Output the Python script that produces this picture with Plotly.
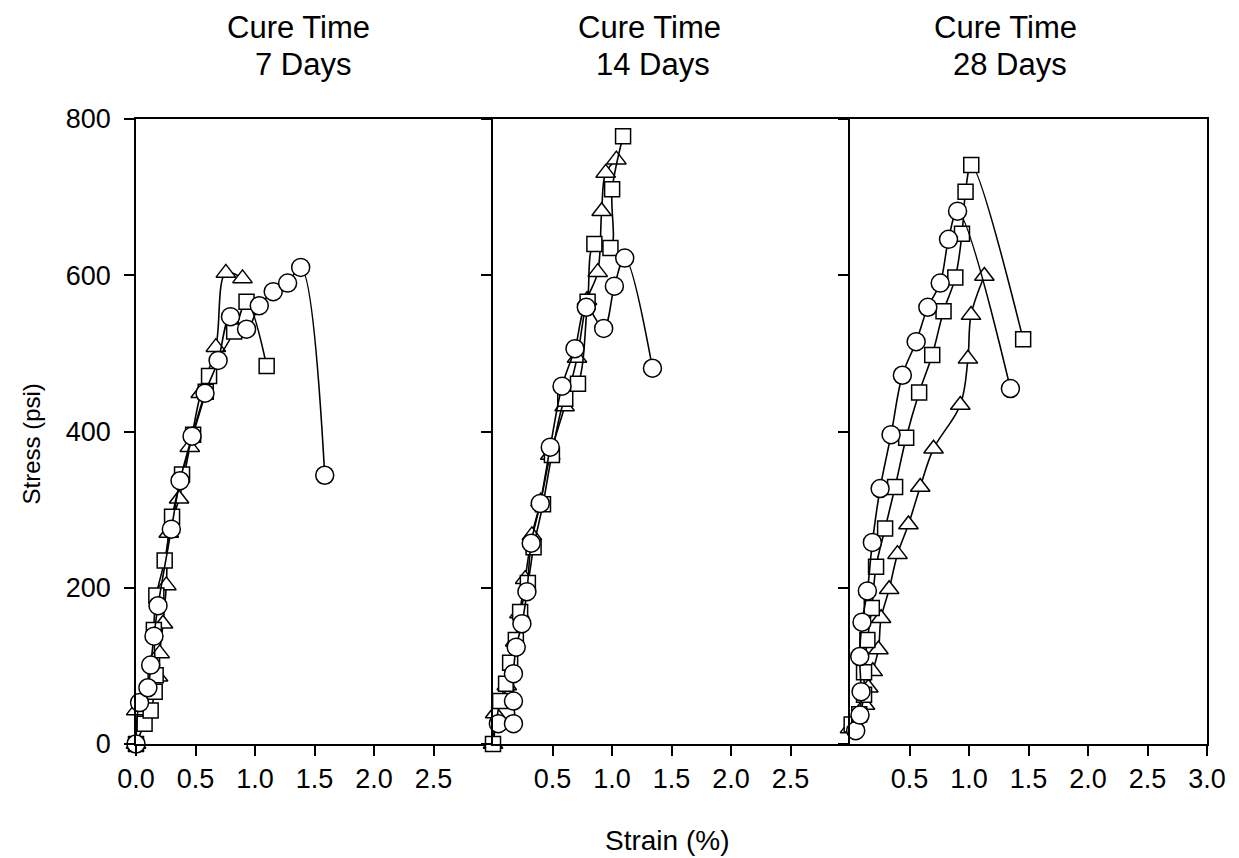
import plotly.graph_objects as go

# ---------------- data ----------------
title_line1 = ["Cure Time", "Cure Time", "Cure Time"]
title_line2 = ["7 Days", "14 Days", "28 Days"]

# 7 days
d7_tri_x = [0.0, 0.002, 0.185, 0.199, 0.227, 0.255, 0.275, 0.362, 0.452, 0.544, 0.671, 0.755, 0.895]
d7_tri_y = [0, 43, 86, 116, 154, 203, 270, 314, 380, 449, 508, 603, 596]
d7_sq_x = [0.0, 0.072, 0.123, 0.157, 0.165, 0.150, 0.171, 0.241, 0.303, 0.387, 0.480, 0.586, 0.614, 0.825, 0.929, 1.098]
d7_sq_y = [0, 26, 43, 67, 88, 146, 190, 235, 291, 345, 396, 451, 471, 528, 566, 484]
d7_ci_x = [0.0, 0.030, 0.100, 0.123, 0.151, 0.185, 0.297, 0.370, 0.471, 0.580, 0.690, 0.794, 0.929, 1.036, 1.153, 1.274, 1.384, 1.586]
d7_ci_y = [0, 53, 72, 101, 138, 177, 275, 337, 394, 449, 491, 547, 531, 561, 579, 590, 610, 344]

# 14 days
d14_tri_x = [0.0, 0.018, 0.068, 0.116, 0.186, 0.222, 0.270, 0.327, 0.400, 0.481, 0.602, 0.706, 0.790, 0.880, 0.913, 0.947, 1.037]
d14_tri_y = [0, 39, 52, 75, 131, 167, 211, 267, 310, 370, 432, 494, 568, 604, 682, 731, 748]
d14_sq_x = [0.0, 0.060, 0.110, 0.144, 0.192, 0.228, 0.293, 0.341, 0.420, 0.495, 0.607, 0.714, 0.795, 0.852, 0.987, 1.001, 1.093]
d14_sq_y = [0, 55, 77, 104, 133, 169, 206, 252, 307, 370, 442, 461, 566, 640, 635, 710, 778]
d14_ci_x = [0.045, 0.172, 0.172, 0.172, 0.195, 0.243, 0.285, 0.321, 0.397, 0.481, 0.580, 0.689, 0.784, 0.930, 1.020, 1.107, 1.340]
d14_ci_y = [26, 26, 55, 90, 124, 154, 195, 257, 308, 380, 458, 506, 559, 532, 586, 622, 481]

# 28 days
d28_tri_x = [0.0, 0.126, 0.154, 0.191, 0.239, 0.261, 0.329, 0.399, 0.491, 0.590, 0.702, 0.927, 0.991, 1.017, 1.129]
d28_tri_y = [20, 50, 72, 93, 121, 161, 198, 243, 281, 329, 378, 434, 493, 549, 599]
d28_sq_x = [0.014, 0.078, 0.118, 0.118, 0.146, 0.183, 0.219, 0.295, 0.379, 0.472, 0.581, 0.691, 0.786, 0.885, 0.941, 0.971, 1.019, 1.455]
d28_sq_y = [25, 38, 63, 92, 133, 174, 227, 276, 329, 392, 450, 498, 554, 597, 653, 707, 741, 518]
d28_ci_x = [0.048, 0.084, 0.093, 0.082, 0.101, 0.146, 0.188, 0.253, 0.345, 0.440, 0.556, 0.654, 0.758, 0.828, 0.904, 1.348]
d28_ci_y = [17, 37, 67, 112, 156, 196, 258, 327, 396, 472, 515, 559, 590, 646, 682, 455]

x_ticks_p1 = [0.0, 0.5, 1.0, 1.5, 2.0, 2.5]
x_ticks_p2 = [0.5, 1.0, 1.5, 2.0, 2.5]
x_ticks_p3 = [0.5, 1.0, 1.5, 2.0, 2.5, 3.0]
y_ticks = [0, 200, 400, 600, 800]

# ---------------- figure ----------------
FONT = "Arial, Liberation Sans, sans-serif"
fig = go.Figure()

panels = [
    [(d7_tri_x, d7_tri_y), (d7_sq_x, d7_sq_y), (d7_ci_x, d7_ci_y)],
    [(d14_tri_x, d14_tri_y), (d14_sq_x, d14_sq_y), (d14_ci_x, d14_ci_y)],
    [(d28_tri_x, d28_tri_y), (d28_sq_x, d28_sq_y), (d28_ci_x, d28_ci_y)],
]
symbols = [("triangle-up", 17), ("square", 15), ("circle", 18)]

for i, series in enumerate(panels):
    xa = "x" if i == 0 else f"x{i+1}"
    ya = "y" if i == 0 else f"y{i+1}"
    for (xs, ys), (sym, size) in zip(series, symbols):
        fig.add_trace(go.Scatter(
            x=xs, y=ys, xaxis=xa, yaxis=ya, mode="lines+markers",
            line=dict(color="black", width=1.6, shape="spline", smoothing=1.0),
            marker=dict(symbol=sym, size=size, color="white",
                        line=dict(color="black", width=1.5)),
            cliponaxis=False, showlegend=False, hoverinfo="x+y",
        ))

doms = [[0.0, 1/3], [1/3, 2/3], [2/3, 1.0]]
xticks = [x_ticks_p1, x_ticks_p2, x_ticks_p3]
layout = dict(
    width=1231, height=850,
    margin=dict(l=128, r=32, t=111, b=114),
    paper_bgcolor="white", plot_bgcolor="white",
    font=dict(family=FONT, color="black", size=27),
    showlegend=False,
)
for i in range(3):
    sx = "" if i == 0 else str(i + 1)
    layout["xaxis" + sx] = dict(
        domain=doms[i], range=[0, 3], anchor="y" + sx,
        tickmode="array", tickvals=xticks[i],
        ticktext=[f"{v:.1f}" for v in xticks[i]],
        ticks="outside", ticklen=10, tickwidth=1.5, tickcolor="black",
        showline=True, linecolor="black", linewidth=1.5, mirror=True,
        showgrid=False, zeroline=False, tickfont=dict(size=27),
        ticklabelstandoff=0,
    )
    layout["yaxis" + sx] = dict(
        domain=[0, 1], range=[0, 800], anchor="x" + sx,
        tickmode="array", tickvals=y_ticks,
        ticks="outside", ticklen=10, tickwidth=1.5, tickcolor="black",
        showticklabels=(i == 0),
        showline=True, linecolor="black", linewidth=1.5, mirror=(i == 2),
        showgrid=False, zeroline=False, tickfont=dict(size=27),
        ticklabelstandoff=8,
    )
fig.update_layout(**layout)

title_x = [0.152, 0.479, 0.812]
for l1, l2, x in zip(title_line1, title_line2, title_x):
    fig.add_annotation(text=l1, xref="paper", yref="paper", x=x, y=1.147,
                       xanchor="center", yanchor="middle", showarrow=False,
                       font=dict(size=31, family=FONT))
    fig.add_annotation(text=l2, xref="paper", yref="paper", x=x + 0.004, y=1.0864,
                       xanchor="center", yanchor="middle", showarrow=False,
                       font=dict(size=31, family=FONT))

fig.add_annotation(text="Strain (%)", xref="paper", yref="paper", x=0.4955, y=-0.155,
                   xanchor="center", yanchor="middle", showarrow=False,
                   font=dict(size=28, family=FONT))
fig.add_annotation(text="Stress (psi)", xref="paper", yref="paper", x=-0.0985, y=0.48,
                   xanchor="center", yanchor="middle", showarrow=False, textangle=-90,
                   font=dict(size=24, family=FONT))

fig.write_html("out.html")
